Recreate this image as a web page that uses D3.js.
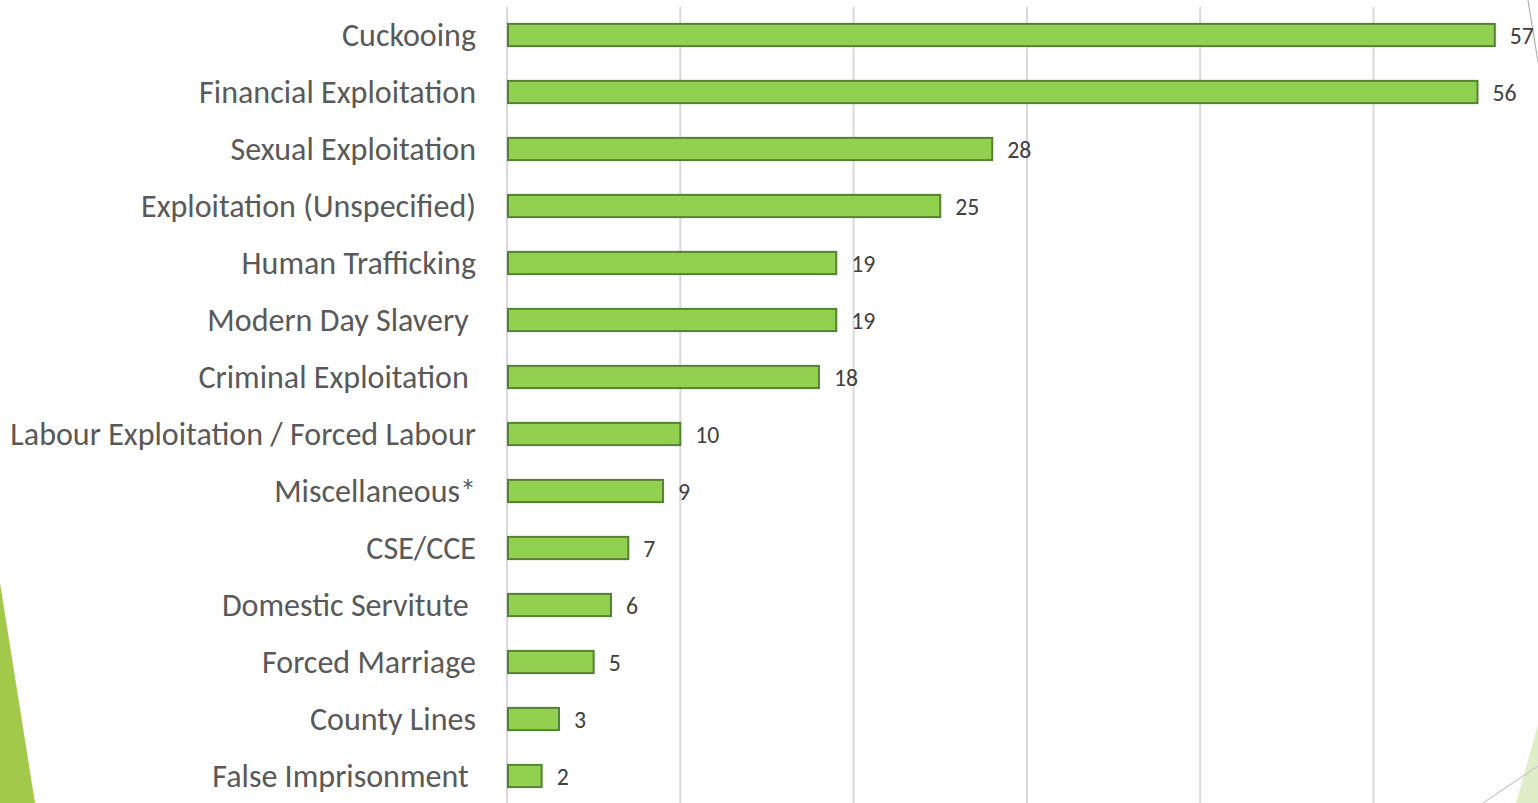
<!DOCTYPE html>
<html>
<head>
<meta charset="utf-8">
<script src="https://cdn.jsdelivr.net/npm/d3@7"></script>
<style>
  html, body { margin: 0; padding: 0; background: #fff; overflow: hidden; }
  svg { display: block; }
</style>
</head>
<body>
<div id="chart"></div>
<script>
// Categories (top to bottom) and counts
const categories = [
    "Cuckooing",
    "Financial Exploitation",
    "Sexual Exploitation",
    "Exploitation (Unspecified)",
    "Human Trafficking",
    "Modern Day Slavery ",
    "Criminal Exploitation ",
    "Labour Exploitation / Forced Labour",
    "Miscellaneous*",
    "CSE/CCE",
    "Domestic Servitute ",
    "Forced Marriage",
    "County Lines",
    "False Imprisonment "
];
const counts = [57, 56, 28, 25, 19, 19, 18, 10, 9, 7, 6, 5, 3, 2];
const gridTicks = [0, 10, 20, 30, 40, 50];

const width = 1538, height = 803;
const fontFamily = "Calibri, Carlito, 'Open Sans', sans-serif";

const svg = d3.select("#chart")
    .append("svg")
    .attr("width", width)
    .attr("height", height);

// decorative slide shapes
svg.append("path")
    .attr("d", "M0,583 L35,803 L0,803 Z")
    .attr("fill", "#a3c94b");
svg.append("path")
    .attr("d", "M1538,725 L1516,803 L1538,803 Z")
    .attr("fill", "#dfedc9");
svg.append("line")
    .attr("x1", 1483).attr("y1", 803).attr("x2", 1538).attr("y2", 766)
    .attr("stroke", "#c8c8c8").attr("stroke-width", 1.2);
svg.append("line")
    .attr("x1", 1528).attr("y1", 0).attr("x2", 1538).attr("y2", 62)
    .attr("stroke", "#b0b0b0").attr("stroke-width", 1.2);

// scales
const x = d3.scaleLinear()
    .domain([0, 10])
    .range([507, 680.3]);

const y = d3.scaleBand()
    .domain(categories)
    .range([6.5, 804.5])
    .paddingInner(0.61)
    .paddingOuter(0.305);

// gridlines
svg.append("g")
    .selectAll("line")
    .data(gridTicks)
    .join("line")
    .attr("x1", d => x(d)).attr("x2", d => x(d))
    .attr("y1", 7).attr("y2", height)
    .attr("stroke", "#d9d9d9")
    .attr("stroke-width", 2);

// bars
svg.append("g")
    .selectAll("rect")
    .data(categories)
    .join("rect")
    .attr("x", x(0) + 1)
    .attr("y", d => y(d))
    .attr("width", (d, i) => x(counts[i]) - x(0) - 1)
    .attr("height", y.bandwidth())
    .attr("fill", "#92d050")
    .attr("stroke", "#548235")
    .attr("stroke-width", 2);

// category labels
const labels = svg.append("g")
    .selectAll("text")
    .data(categories)
    .join("text")
    .attr("x", 476)
    .attr("y", d => y(d) + y.bandwidth() / 2)
    .attr("dy", "0.35em")
    .attr("text-anchor", "end")
    .style("white-space", "pre")
    .style("font-family", fontFamily)
    .style("font-size", "26px")
    .style("fill", "#595959")
    .text(d => d);

// fit longest label to the reference width (~466px)
const longest = labels.filter(d => d.startsWith("Labour")).node();
const w = longest.getComputedTextLength();
const fs = 26 * 466 / w;
labels.style("font-size", fs + "px");

// value labels
svg.append("g")
    .selectAll("text")
    .data(categories)
    .join("text")
    .attr("x", (d, i) => x(counts[i]) + 15)
    .attr("y", d => y(d) + y.bandwidth() / 2)
    .attr("dy", "0.36em")
    .style("font-family", fontFamily)
    .style("font-size", (fs * 0.74) + "px")
    .style("fill", "#404040")
    .text((d, i) => counts[i]);
</script>
</body>
</html>
